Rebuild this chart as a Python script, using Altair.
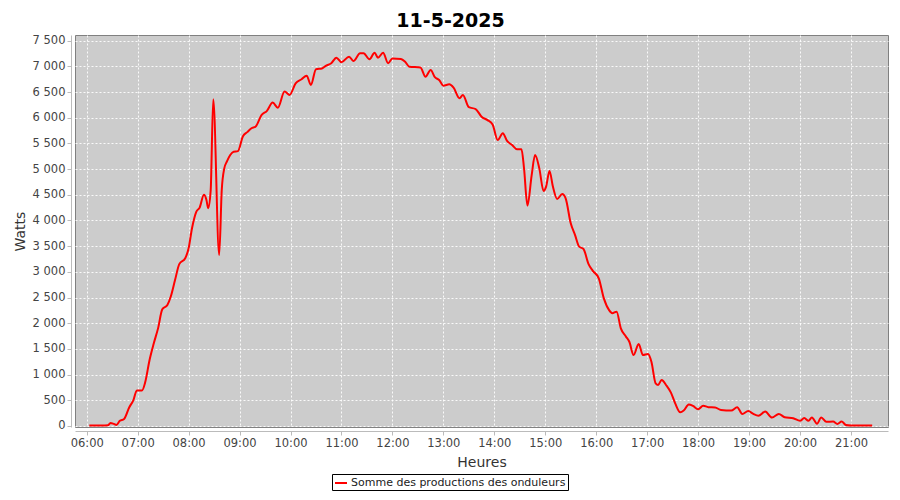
import altair as alt
import pandas as pd

chart_title = "11-5-2025"
series_name = "Somme des productions des onduleurs"

times = [
    "06:03", "06:10", "06:18", "06:25", "06:28", "06:32", "06:35", "06:39", "06:44", "06:50",
    "06:55", "06:59", "07:05", "07:09", "07:14", "07:19", "07:24", "07:29", "07:35", "07:39",
    "07:44", "07:49", "07:56", "08:00", "08:04", "08:09", "08:13", "08:18", "08:21", "08:23",
    "08:26", "08:29", "08:36", "08:39", "08:42", "08:45", "08:49", "08:53", "08:58", "09:04",
    "09:09", "09:14", "09:19", "09:26", "09:32", "09:39", "09:45", "09:53", "09:59", "10:06",
    "10:13", "10:19", "10:24", "10:30", "10:37", "10:42", "10:48", "10:54", "11:00", "11:09",
    "11:14", "11:22", "11:26", "11:33", "11:39", "11:43", "11:49", "11:55", "12:00", "12:10",
    "12:15", "12:20", "12:33", "12:39", "12:45", "12:50", "12:55", "13:00", "13:07", "13:12",
    "13:19", "13:23", "13:30", "13:38", "13:45", "13:52", "13:58", "14:04", "14:10", "14:15",
    "14:21", "14:27", "14:32", "14:35", "14:39", "14:44", "14:48", "14:53", "14:58", "15:01",
    "15:05", "15:09", "15:14", "15:20", "15:24", "15:30", "15:35", "15:40", "15:45", "15:51",
    "15:56", "16:03", "16:09", "16:15", "16:19", "16:24", "16:29", "16:35", "16:39", "16:44",
    "16:50", "16:55", "17:01", "17:05", "17:10", "17:13", "17:17", "17:23", "17:28", "17:33",
    "17:39", "17:43", "17:49", "17:54", "18:00", "18:06", "18:12", "18:20", "18:27", "18:39",
    "18:46", "18:52", "18:59", "19:05", "19:11", "19:19", "19:27", "19:35", "19:42", "19:52",
    "20:00", "20:05", "20:10", "20:14", "20:20", "20:25", "20:31", "20:39", "20:44", "20:49",
    "20:54", "21:00", "21:10", "21:20", "21:25",
]

watts = [
    10, 10, 10, 15, 60, 40, 20, 100, 135, 360,
    505, 690, 690, 860, 1285, 1610, 1900, 2270, 2355, 2520,
    2840, 3150, 3265, 3460, 3850, 4170, 4250, 4500, 4400, 4240,
    4590, 6360, 3330, 4590, 5015, 5145, 5275, 5340, 5350, 5640,
    5720, 5795, 5830, 6055, 6130, 6295, 6195, 6510, 6445, 6670,
    6750, 6820, 6640, 6945, 6960, 7015, 7060, 7170, 7080, 7190,
    7105, 7255, 7255, 7140, 7265, 7170, 7265, 7060, 7155, 7145,
    7090, 6995, 6980, 6800, 6930, 6790, 6735, 6625, 6650, 6585,
    6380, 6445, 6205, 6170, 6020, 5955, 5870, 5565, 5700, 5550,
    5470, 5385, 5385, 5015, 4290, 4885, 5275, 5015, 4575, 4660,
    4965, 4660, 4420, 4515, 4430, 3945, 3720, 3490, 3445, 3150,
    3020, 2875, 2485, 2260, 2195, 2225, 1900, 1740, 1640, 1380,
    1595, 1380, 1400, 1250, 830, 800, 895, 780, 650, 440,
    265, 300, 420, 390, 325, 395, 365, 360, 310, 300,
    365, 235, 290, 235, 200, 280, 165, 235, 170, 150,
    100, 155, 100, 165, 45, 165, 80, 85, 40, 85,
    20, 10, 10, 10, 10,
]

hour_ticks = list(range(6, 22))
watt_ticks = list(range(0, 7501, 500))


def to_hours(t):
    h, m = t.split(":")
    return int(h) + int(m) / 60.0


df = pd.DataFrame({
    "heure": [to_hours(t) for t in times],
    "watts": watts,
    "serie": [series_name] * len(times),
})

axis_common = dict(
    domainColor="#BBBBBB",
    tickColor="#BBBBBB",
    tickSize=4,
    labelColor="#444444",
    labelFontSize=11.5,
    labelPadding=2,
    titleColor="#333333",
    titleFontSize=14,
    titleFontWeight="normal",
    gridColor="#FFFFFF",
    gridDash=[2, 2],
    gridWidth=1,
    gridOpacity=0.9,
    offset=4,
)

chart = alt.Chart(df).mark_line(strokeWidth=2, interpolate="monotone").encode(
    x=alt.X(
        "heure:Q",
        scale=alt.Scale(domain=[5.770, 21.727], nice=False, zero=False),
        axis=alt.Axis(
            title="Heures",
            values=hour_ticks,
            labelExpr="(datum.value < 10 ? '0' : '') + datum.value + ':00'",
            titleY=35,
            titleBaseline="alphabetic",
            **axis_common,
        ),
    ),
    y=alt.Y(
        "watts:Q",
        scale=alt.Scale(domain=[-20, 7611], nice=False, zero=False),
        axis=alt.Axis(
            title="Watts",
            values=watt_ticks,
            labelExpr="replace(format(datum.value, ','), ',', ' ')",
            titleAngle=270,
            titleX=-47,
            titleBaseline="alphabetic",
            titleAlign="center",
            **axis_common,
        ),
    ),
    color=alt.Color(
        "serie:N",
        scale=alt.Scale(domain=[series_name], range=["#FF0000"]),
        legend=alt.Legend(
            title=None,
            orient="none",
            legendX=257,
            legendY=439,
            strokeColor="#000000",
            fillColor="#FFFFFF",
            padding=2,
            labelFontSize=11,
            labelColor="#222222",
            labelOffset=3,
            labelLimit=0,
            symbolType="stroke",
            symbolStrokeWidth=2,
            symbolSize=144,
            cornerRadius=0,
        ),
    ),
).properties(
    width=813,
    height=392,
    autosize=alt.AutoSizeParams(type="none"),
    padding={"left": 67, "top": 27, "right": 4, "bottom": 65},
    title=alt.TitleParams(
        chart_title,
        fontSize=19,
        fontWeight="bold",
        color="#000000",
        anchor="middle",
        frame="bounds",
        offset=4,
    ),
).configure(
    font="DejaVu Sans",
).configure_view(
    fill="#CCCCCC",
    stroke="#808080",
    strokeWidth=1,
)

chart.save("out.html", embed_options={"renderer": "svg", "actions": False})
